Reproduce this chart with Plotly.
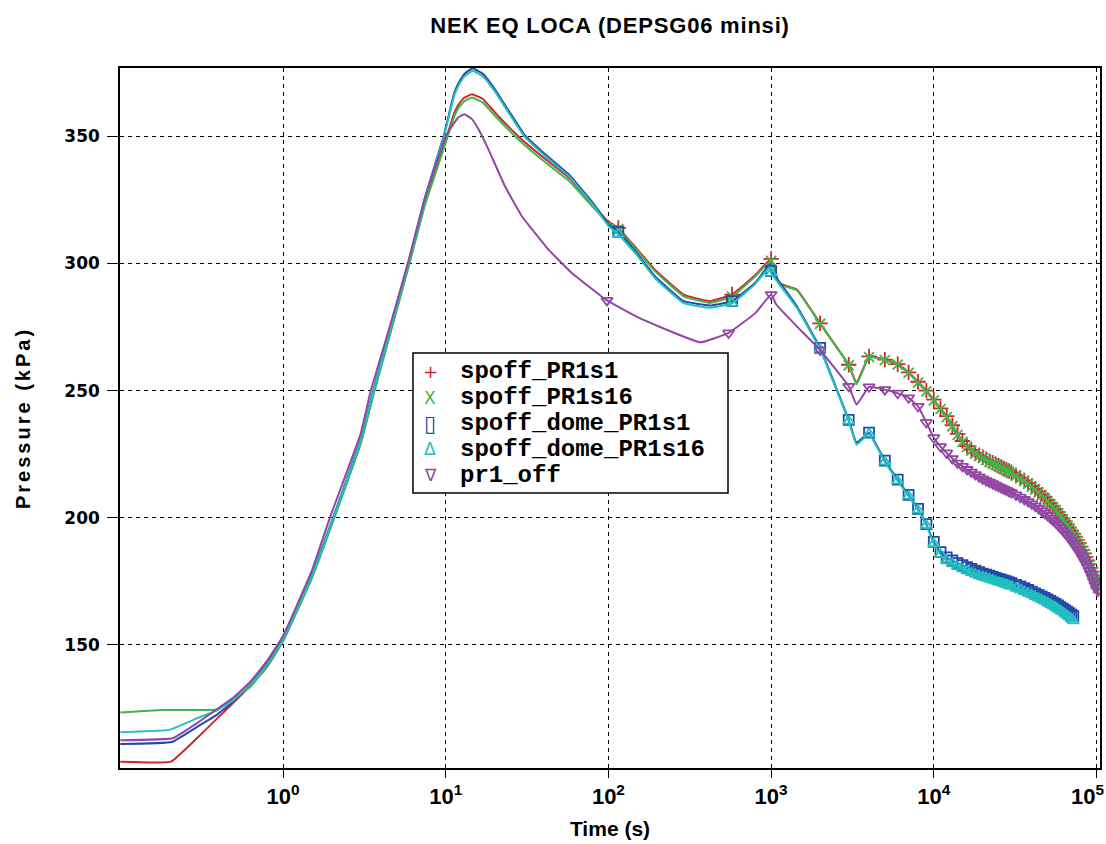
import plotly.graph_objects as go

# ---------------- data ----------------
# marker sample times shared by the series (s)
MARKER_T = [115, 575, 1000,
            2000, 3000, 4000, 5000, 6000, 7000, 8000, 9000, 10000,
            11000, 12000, 13000, 14000, 15000, 16000, 17000, 18000, 19000, 20000,
            21000, 22000, 23000, 24000, 25000, 26000, 27000, 28000, 29000, 30000,
            32000, 34000, 36000, 38000, 40000, 42000, 44000, 46000, 48000, 50000,
            52000, 54000, 56000, 58000, 60000, 62000, 64000, 66000, 68000, 70000,
            72000, 74000, 76000, 78000, 80000, 82000, 84000, 86000, 88000, 90000,
            92000, 94000, 96000, 98000, 100000, 102000]
PURPLE_EARLY_MARKER_T = [98, 548]

# spoff_PR1s1 (red)
red_line_t = [0.1, 0.205, 0.3, 0.4, 0.5, 0.63, 0.8, 1.0, 1.5, 2.04, 3.0, 3.6, 4.5,
              5.9, 7.5, 10, 11.3, 12, 13, 14.5, 17, 20, 28, 40, 57, 80, 100, 150,
              193, 290, 420, 800, 1115, 1440, 3350]
red_line_p = [104.1, 104.1, 113.7, 121.5, 127.5, 134.0, 141.5, 151.5, 176.5, 199.5,
              229.5, 249.0, 271.5, 299.0, 324.5, 348.5, 359.3, 362.5, 365.2, 366.6,
              364.6, 359.5, 350.0, 341.6, 333.8, 323.1, 316.5, 305.7, 297.6, 287.8,
              285.2, 295.5, 292.4, 289.8, 253.0]
red_marker_p = [314.0, 287.8, 301.8,
                276.5, 260.2, 263.5, 262.2, 260.4, 257.2, 253.5, 250.0, 246.5,
                243.0, 240.0, 236.4, 233.0, 230.2, 228.2, 226.7, 225.5, 224.6, 223.8,
                223.0, 222.3, 221.7, 221.1, 220.5, 220.0, 219.4, 218.9, 218.4, 217.9,
                216.8, 215.8, 214.7, 213.6, 212.5, 211.4, 210.3, 209.1, 208.0, 206.9,
                205.7, 204.5, 203.3, 202.1, 200.9, 199.7, 198.5, 197.3, 196.1, 194.9,
                193.7, 192.5, 191.3, 190.0, 188.7, 187.3, 186.0, 184.6, 183.2, 181.8,
                180.3, 178.8, 177.3, 175.8, 174.2, 172.6]

# spoff_PR1s16 (green)
green_line_t = [0.1, 0.18, 0.39, 0.5, 0.63, 0.8, 1.0, 1.5, 2.04, 3.0, 3.6, 4.5, 5.9,
                7.5, 10, 11.3, 12, 13, 14.5, 17, 20, 28, 40, 57, 80, 100, 150, 193,
                290, 420, 800, 1115, 1440, 3350]
green_line_p = [123.4, 124.4, 124.6, 129.0, 133.5, 141.8, 151.5, 176.0, 199.0, 229.0,
                248.5, 271.0, 298.5, 323.5, 347.5, 358.0, 361.3, 363.8, 365.3, 363.2,
                358.2, 348.8, 340.3, 332.6, 322.3, 316.0, 305.2, 297.0, 287.1, 284.5,
                295.0, 292.0, 289.5, 252.5]
green_marker_p = [313.5, 287.0, 301.0,
                  276.3, 260.0, 263.2, 262.0, 260.2, 257.0, 253.2, 249.7, 246.2,
                  242.7, 239.6, 236.0, 232.6, 229.9, 227.9, 226.4, 225.2, 224.3, 223.5,
                  222.7, 222.0, 221.4, 220.8, 220.2, 219.7, 219.1, 218.6, 218.1, 217.6,
                  216.5, 215.5, 214.4, 213.3, 212.2, 211.1, 210.0, 208.8, 207.7, 206.6,
                  205.4, 204.2, 203.0, 201.8, 200.6, 199.4, 198.2, 197.0, 195.8, 194.6,
                  193.4, 192.2, 191.0, 189.7, 188.4, 187.0, 185.7, 184.3, 182.9, 181.5,
                  180.0, 178.5, 177.0, 175.5, 173.9, 172.3]

# spoff_dome_PR1s1 (blue)
blue_line_t = [0.1, 0.207, 0.3, 0.39, 0.5, 0.63, 0.8, 1.0, 1.5, 2.04, 3.0, 3.6, 4.5,
               5.9, 7.5, 9.7, 11.3, 12, 13, 14.6, 17, 20, 25, 30.6, 40, 57, 80, 100,
               150, 193, 290, 421, 800, 980, 1075, 1440, 3350]
blue_line_p = [111.0, 111.8, 118.0, 122.4, 128.0, 134.5, 142.8, 152.5, 177.5, 200.5,
               231.0, 250.5, 273.0, 300.5, 326.5, 350.0, 367.2, 371.0, 374.5, 376.8,
               374.5, 368.6, 359.0, 350.5, 343.5, 335.1, 324.0, 315.5, 304.0, 295.0,
               285.2, 283.5, 292.5, 299.6, 294.5, 283.2, 229.5]
blue_marker_p = [312.5, 285.2, 297.0,
                 266.8, 238.5, 233.5, 222.5, 215.0, 209.0, 203.5, 197.5, 190.5,
                 186.5, 184.4, 183.2, 182.2, 181.4, 180.6, 179.9, 179.2, 178.6, 178.0,
                 177.6, 177.2, 176.8, 176.4, 176.0, 175.7, 175.3, 175.0, 174.6, 174.3,
                 173.6, 173.0, 172.3, 171.6, 171.0, 170.3, 169.7, 169.1, 168.5, 167.9,
                 167.3, 166.7, 166.1, 165.5, 164.9, 164.3, 163.7, 163.1, 162.5, 161.9,
                 161.3]

# spoff_dome_PR1s16 (cyan)
cyan_line_t = [0.1, 0.2, 0.3, 0.39, 0.5, 0.63, 0.8, 1.0, 1.5, 2.04, 3.0, 3.6, 4.5,
               5.9, 7.5, 9.7, 11.3, 12, 13, 14.6, 17, 20, 25, 30.6, 40, 57, 80, 100,
               150, 193, 290, 421, 800, 980, 1075, 1440, 3350]
cyan_line_p = [115.7, 116.6, 121.3, 124.2, 128.5, 134.3, 142.3, 152.0, 177.0, 200.0,
               230.5, 250.0, 272.5, 300.0, 326.0, 349.5, 366.2, 370.0, 373.5, 375.8,
               373.5, 367.8, 358.2, 349.8, 342.8, 334.4, 323.3, 314.8, 303.3, 294.3,
               284.4, 282.6, 292.0, 298.6, 293.5, 282.5, 228.8]
cyan_marker_p = [311.5, 284.3, 296.2,
                 266.3, 238.0, 233.0, 222.0, 214.5, 208.5, 203.0, 197.0, 189.8,
                 185.6, 183.1, 181.9, 180.8, 179.9, 179.1, 178.4, 177.8, 177.2, 176.7,
                 176.3, 175.9, 175.5, 175.1, 174.7, 174.4, 174.0, 173.7, 173.3, 173.0,
                 172.3, 171.7, 171.0, 170.3, 169.7, 169.0, 168.4, 167.8, 167.2, 166.6,
                 166.0, 165.4, 164.8, 164.1, 163.5, 162.9, 162.2, 161.6, 160.9, 160.2,
                 159.5]

# pr1_off (purple)
purple_line_t = [0.1, 0.21, 0.3, 0.39, 0.5, 0.63, 0.8, 1.0, 1.5, 1.94, 3.0, 3.46, 4.5,
                 5.9, 7.5, 10, 11.3, 12, 13, 14.5, 16, 18.3, 23.1, 29.3, 42.8, 59.3,
                 150, 200, 367, 800, 1075, 1440, 3350]
purple_line_p = [112.5, 113.3, 119.5, 124.6, 129.5, 135.5, 143.8, 153.5, 179.0, 200.0,
                 233.0, 250.0, 274.5, 301.0, 326.5, 350.0, 355.4, 357.5, 358.7, 356.8,
                 352.5, 344.9, 330.5, 318.7, 305.5, 296.4, 279.0, 275.5, 269.0, 280.5,
                 283.9, 275.3, 244.5]
purple_marker_p = [285.5, 272.7, 287.8,
                   266.0, 251.7, 251.5, 250.4, 249.0, 247.2, 243.8, 237.5, 231.5,
                   228.0, 225.5, 223.3, 221.5, 220.2, 219.0, 218.0, 217.0, 216.1, 215.3,
                   214.6, 214.0, 213.4, 212.8, 212.3, 211.8, 211.3, 210.8, 210.3, 209.9,
                   209.0, 208.1, 207.2, 206.4, 205.5, 204.6, 203.7, 202.7, 201.8, 200.9,
                   199.9, 199.0, 198.1, 197.1, 196.1, 195.1, 194.1, 193.1, 192.0, 191.0,
                   189.9, 188.8, 187.7, 186.6, 185.5, 184.3, 183.1, 181.9, 180.7, 179.4,
                   178.1, 176.8, 175.4, 174.0, 172.6, 171.2]

SERIES_NAMES = ["spoff_PR1s1", "spoff_PR1s16", "spoff_dome_PR1s1",
                "spoff_dome_PR1s16", "pr1_off"]
X_TICK_VALS = [1, 10, 100, 1000, 10000, 100000]
X_TICK_TEXT = ["10<sup>0</sup>", "10<sup>1</sup>", "10<sup>2</sup>",
               "10<sup>3</sup>", "10<sup>4</sup>", "10<sup>5</sup>"]
Y_TICK_VALS = [150, 200, 250, 300, 350]

# ---------------- styles ----------------
COLORS = ["#d2262c", "#3fb54a", "#2348a8", "#22c0c0", "#9247a6"]
SYMBOLS = ["cross-thin-open", "x-thin-open", "square-open",
           "triangle-up-open", "triangle-down-open"]
SIZES = [11, 10, 10, 10, 10]
LEGEND_GLYPHS = ["+", "X", "\u25af", "\u0394", "\u2207"]
LEGEND_GLYPH_SIZES = [18, 17, 22, 17, 17]
LEGEND_GLYPH_WEIGHTS = ["normal", "normal", "bold", "normal", "normal"]
TICK_FONT = dict(family="Liberation Sans, Arial", size=22, color="black", weight="bold")

# plot area in pixels (for the hand-placed legend box)
L, R, T, B = 120, 1100, 68, 768
W_PX, H_PX = R - L, B - T


def px_x(x):
    return (x - L) / W_PX


def px_y(y):
    return (B - y) / H_PX


series = [
    (red_line_t, red_line_p, MARKER_T, red_marker_p),
    (green_line_t, green_line_p, MARKER_T, green_marker_p),
    (blue_line_t, blue_line_p, MARKER_T, blue_marker_p),
    (cyan_line_t, cyan_line_p, MARKER_T, cyan_marker_p),
    (purple_line_t, purple_line_p, PURPLE_EARLY_MARKER_T + MARKER_T[2:], purple_marker_p),
]

fig = go.Figure()
for i, (lt, lp, mt, mp) in enumerate(series):
    mt = mt[:len(mp)]
    pts = sorted(list(zip(lt, lp)) + list(zip(mt, mp)))
    fig.add_trace(go.Scatter(
        x=[a for a, _ in pts], y=[b for _, b in pts], mode="lines",
        line=dict(color=COLORS[i], width=2, shape="spline", smoothing=0.3),
        showlegend=False, name=SERIES_NAMES[i], hoverinfo="skip"))
    fig.add_trace(go.Scatter(
        x=mt, y=mp, mode="markers", name=SERIES_NAMES[i], showlegend=False,
        marker=dict(symbol=SYMBOLS[i], size=SIZES[i], color=COLORS[i],
                    line=dict(color=COLORS[i], width=1.8))))

axis_common = dict(
    showline=True, linecolor="black", linewidth=1.5, mirror=True,
    showgrid=True, gridcolor="black", gridwidth=1, griddash="4px,4px",
    ticks="outside", tickcolor="black", tickwidth=1,
    zeroline=False,
)

# hand-drawn legend (box + glyphs + labels)
fig.add_shape(type="rect", xref="paper", yref="paper",
              x0=px_x(413), x1=px_x(728), y0=px_y(493), y1=px_y(353),
              fillcolor="white", line=dict(color="black", width=1.5), layer="above")
ROW_Y = [371.5, 397.5, 423.5, 449.0, 475.0]
for i, name in enumerate(SERIES_NAMES):
    fig.add_annotation(xref="paper", yref="paper", x=px_x(430), y=px_y(ROW_Y[i]),
                       text=LEGEND_GLYPHS[i], showarrow=False, xanchor="center",
                       yanchor="middle",
                       font=dict(family="DejaVu Sans", size=LEGEND_GLYPH_SIZES[i],
                                 color=COLORS[i], weight=LEGEND_GLYPH_WEIGHTS[i]))
    fig.add_annotation(xref="paper", yref="paper", x=px_x(458), y=px_y(ROW_Y[i]),
                       text=name, showarrow=False, xanchor="left", yanchor="middle",
                       font=dict(family="Liberation Mono, Courier New, monospace",
                                 size=24, color="black", weight="bold"))

# the last decade label sits at the right page edge: place it so it stays inside
fig.add_annotation(xref="paper", yref="paper", x=1.0, y=0, xanchor="right",
                   yanchor="top", xshift=6, yshift=-11, text=X_TICK_TEXT[-1],
                   showarrow=False, font=TICK_FONT)

fig.update_layout(
    width=1106, height=844,
    margin=dict(l=L, r=1106 - R, t=T, b=844 - B),
    paper_bgcolor="white", plot_bgcolor="white",
    showlegend=False,
    title=dict(text="NEK EQ LOCA (DEPSG06 minsi)", x=0.5, xref="paper",
               y=1 - 25 / 844, yref="container", yanchor="middle",
               font=dict(family="Liberation Sans, Arial", size=22, color="black",
                         weight="bold")),
    xaxis=dict(type="log", range=[-1.002, 5.0215], tickvals=X_TICK_VALS,
               ticktext=X_TICK_TEXT[:-1] + [""], automargin=False, ticklen=8,
               tickfont=TICK_FONT,
               title=dict(text="Time (s)", standoff=13,
                          font=dict(family="Liberation Sans, Arial", size=21,
                                    color="black", weight="bold")),
               **axis_common),
    yaxis=dict(range=[101.6, 376.9], tickvals=Y_TICK_VALS, automargin=False,
               ticklen=11, ticklabelstandoff=4,
               tickfont=dict(family="DejaVu Sans, Liberation Sans", size=17,
                             color="black", weight="bold"),
               title=dict(text="Pressure (kPa)", standoff=28,
                          font=dict(family="Liberation Sans, Arial", size=20,
                                    color="black", weight="bold")),
               **axis_common),
)

post = """
document.body.style.margin = '0';
var gd = document.querySelector('.plotly-graph-div');
function fixText(){
  var t = gd.querySelector('.gtitle');
  if (t) { t.style.letterSpacing = '0.8px'; }
  var yt = gd.querySelector('.ytitle');
  if (yt) { yt.style.letterSpacing = '3px'; }
}
fixText();
gd.on('plotly_afterplot', fixText);
"""
fig.write_html("out.html", post_script=post, config={"displayModeBar": False})
